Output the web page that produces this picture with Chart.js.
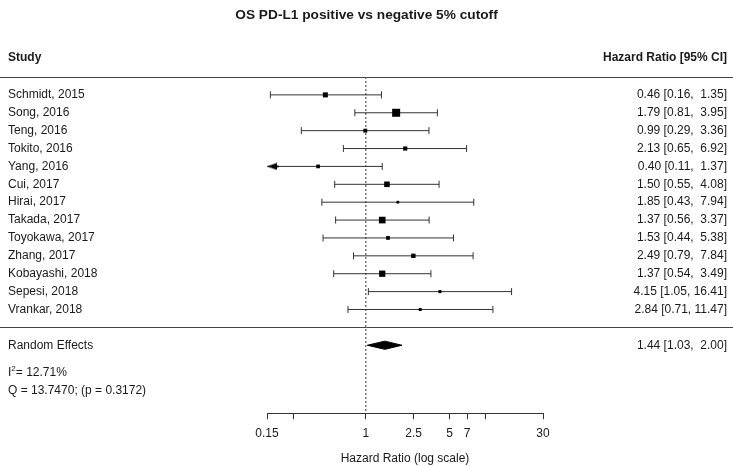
<!DOCTYPE html>
<html>
<head>
<meta charset="utf-8">
<script src="https://cdn.jsdelivr.net/npm/chart.js@4.4.0/dist/chart.umd.min.js"></script>
<style>
  html, body { margin: 0; padding: 0; background: #fff; }
</style>
</head>
<body>
<canvas id="forest" width="733" height="466"></canvas>
<script>
const studies = ['Schmidt, 2015', 'Song, 2016', 'Teng, 2016', 'Tokito, 2016', 'Yang, 2016', 'Cui, 2017',
  'Hirai, 2017', 'Takada, 2017', 'Toyokawa, 2017', 'Zhang, 2017', 'Kobayashi, 2018', 'Sepesi, 2018', 'Vrankar, 2018'];
const hr     = [0.46, 1.79, 0.99, 2.13, 0.40, 1.50, 1.85, 1.37, 1.53, 2.49, 1.37, 4.15, 2.84];
const ciLow  = [0.16, 0.81, 0.29, 0.65, 0.11, 0.55, 0.43, 0.56, 0.44, 0.79, 0.54, 1.05, 0.71];
const ciHigh = [1.35, 3.95, 3.36, 6.92, 1.37, 4.08, 7.94, 3.37, 5.38, 7.84, 3.49, 16.41, 11.47];

const pooledLabel = 'Random Effects';
const pooledHR = 1.44;
const pooledLow = 1.03;
const pooledHigh = 2.00;
const heteroI2 = '12.71%';
const heteroQ = 'Q = 13.7470; (p = 0.3172)';

const axisTicks = [0.15, 0.25, 1, 2.5, 5, 7, 10, 30];
const axisTickLabels = ['0.15', '', '1', '2.5', '5', '7', '', '30'];

// row layout (y scale is in rows, top to bottom)
const xMin = 0.15, xMax = 30;
const yMin = -1, yMax = 17.8;
const pooledRow = studies.length + 1;
const FONT = '"Liberation Sans", Arial, sans-serif';
const INK = '#1a1a1a';
const LINE = '#333';

// box size follows precision of each study (from its CI width)
const prec = ciLow.map((lo, i) => 2 * 1.96 / Math.log(ciHigh[i] / lo));
const pMin = Math.min(...prec), pMax = Math.max(...prec);
const boxRadius = prec.map(p => (2.7 + (p - pMin) / (pMax - pMin) * 5.3) / Math.SQRT2);

// arrow head for a CI that runs off the left edge: tip sits on the point
function arrowHead() {
    const c = document.createElement('canvas');
    c.width = 24; c.height = 8;
    const g = c.getContext('2d');
    g.fillStyle = '#000';
    g.beginPath();
    g.moveTo(12, 4);
    g.lineTo(22, 0.6);
    g.lineTo(22, 7.4);
    g.closePath();
    g.fill();
    g.fillRect(20, 3.3, 4, 1.4);
    return c;
}
const arrow = arrowHead();

const ciSets = studies.map((s, i) => {
    const clipped = ciLow[i] < xMin;
    return {
        type: 'line',
        data: [{ x: clipped ? xMin : ciLow[i], y: i }, { x: ciHigh[i], y: i }],
        borderColor: LINE,
        borderWidth: 1,
        pointStyle: [clipped ? arrow : 'line', 'line'],
        pointRotation: [clipped ? 0 : 90, 90],
        pointRadius: 3.5,
        pointBorderColor: LINE,
        pointBorderWidth: 1,
        clip: false,
        order: 2
    };
});

const boxSet = {
    type: 'scatter',
    data: hr.map((v, i) => ({ x: v, y: i })),
    pointStyle: 'rect',
    pointRadius: boxRadius,
    backgroundColor: '#000',
    borderWidth: 0,
    clip: false,
    order: 1
};

const diamondH = 0.23;
const diamondSet = {
    type: 'line',
    data: [
        { x: pooledLow, y: pooledRow },
        { x: pooledHR, y: pooledRow - diamondH },
        { x: pooledHigh, y: pooledRow },
        { x: pooledHR, y: pooledRow + diamondH },
        { x: pooledLow, y: pooledRow }
    ],
    borderColor: '#000',
    borderWidth: 1,
    backgroundColor: '#000',
    fill: 'shape',
    pointRadius: 0,
    tension: 0,
    clip: false,
    order: 1
};

const refSet = {
    type: 'line',
    data: [{ x: 1, y: yMin }, { x: 1, y: yMax }],
    borderColor: '#333',
    borderWidth: 1,
    borderDash: [2, 2],
    pointRadius: 0,
    order: 3
};

const fmt = (v, w) => v.toFixed(2).padStart(w, ' ');
const ciText = (e, lo, hi) => `${fmt(e, 4)} [${fmt(lo, 4)}, ${fmt(hi, 5)}]`;

const forestText = {
    id: 'forestText',
    afterDatasetsDraw(chart) {
        const { ctx, width, scales: { y } } = chart;
        ctx.save();
        ctx.fillStyle = INK;
        ctx.textBaseline = 'middle';

        // title
        ctx.font = 'bold 13.7px ' + FONT;
        ctx.textAlign = 'center';
        ctx.fillText('OS PD-L1 positive vs negative 5% cutoff', width / 2, 15);

        // column headers
        ctx.font = 'bold 12px ' + FONT;
        ctx.textAlign = 'left';
        ctx.fillText('Study', 8, y.getPixelForValue(-2.1));
        ctx.textAlign = 'right';
        ctx.fillText('Hazard Ratio [95% CI]', 727, y.getPixelForValue(-2.1));

        // full-width rules
        ctx.strokeStyle = '#444';
        ctx.lineWidth = 1;
        [yMin, studies.length].forEach(r => {
            const py = Math.round(y.getPixelForValue(r)) + 0.5;
            ctx.beginPath();
            ctx.moveTo(0, py);
            ctx.lineTo(width, py);
            ctx.stroke();
        });

        // study rows
        ctx.font = '12px ' + FONT;
        studies.forEach((s, i) => {
            const py = y.getPixelForValue(i);
            ctx.textAlign = 'left';
            ctx.fillText(s, 8, py);
            ctx.textAlign = 'right';
            ctx.fillText(ciText(hr[i], ciLow[i], ciHigh[i]), 727, py);
        });

        // pooled row
        const pp = y.getPixelForValue(pooledRow);
        ctx.textAlign = 'left';
        ctx.fillText(pooledLabel, 8, pp);
        ctx.textAlign = 'right';
        ctx.fillText(ciText(pooledHR, pooledLow, pooledHigh), 727, pp);

        // heterogeneity
        ctx.textAlign = 'left';
        const pi = y.getPixelForValue(pooledRow + 1.55);
        ctx.fillText('I', 8, pi);
        const iw = ctx.measureText('I').width;
        ctx.font = '8px ' + FONT;
        ctx.fillText('2', 8 + iw, pi - 4);
        const sw = ctx.measureText('2').width;
        ctx.font = '12px ' + FONT;
        ctx.fillText('= ' + heteroI2, 8 + iw + sw, pi);
        ctx.fillText(heteroQ, 8, y.getPixelForValue(pooledRow + 2.55));
        ctx.restore();
    }
};

new Chart(document.getElementById('forest'), {
    data: { datasets: [refSet, ...ciSets, boxSet, diamondSet] },
    options: {
        responsive: false,
        animation: false,
        events: [],
        layout: { padding: { left: 267, right: 190, top: 77, bottom: 0 } },
        plugins: { legend: { display: false }, tooltip: { enabled: false }, title: { display: false } },
        scales: {
            x: {
                type: 'logarithmic',
                position: 'bottom',
                min: xMin,
                max: xMax,
                afterBuildTicks: scale => { scale.ticks = axisTicks.map(v => ({ value: v })); },
                ticks: {
                    autoSkip: false,
                    maxRotation: 0,
                    padding: 7,
                    color: INK,
                    font: { family: FONT, size: 12 },
                    callback: (v, i) => axisTickLabels[i]
                },
                grid: { drawOnChartArea: false, drawTicks: true, tickLength: 6, color: '#333' },
                border: { display: true, color: '#333', width: 1 },
                title: {
                    display: true,
                    text: 'Hazard Ratio (log scale)',
                    color: INK,
                    font: { family: FONT, size: 12 },
                    padding: { top: 4, bottom: 0 }
                }
            },
            y: {
                type: 'linear',
                display: false,
                reverse: true,
                min: yMin,
                max: yMax
            }
        }
    },
    plugins: [forestText]
});
</script>
</body>
</html>
